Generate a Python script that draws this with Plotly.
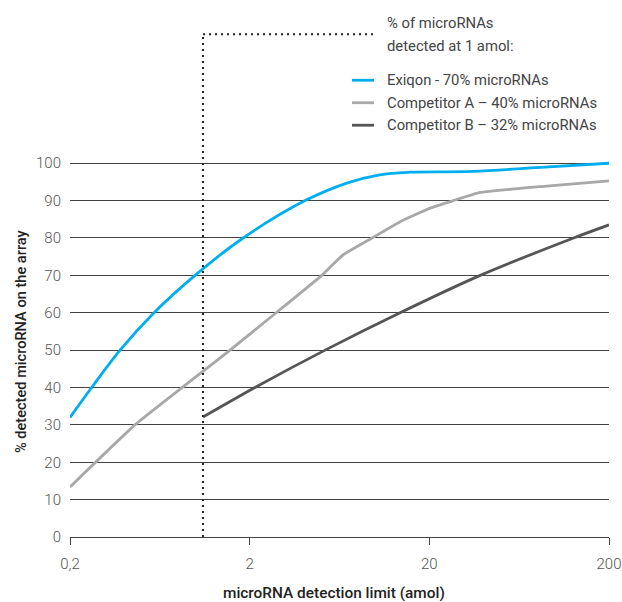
import math
import plotly.graph_objects as go

# ---- data ----
exiqon_x = [0.2, 0.264, 0.380, 0.587, 0.993, 1.84, 4.07, 6.95, 10.6, 15.6, 35, 83, 200]
exiqon_y = [32, 40, 50, 60, 70, 80, 90, 94.7, 96.9, 97.6, 97.8, 98.9, 100]

compA_x = [0.2, 0.46, 1.556, 5.04, 6.62, 9.6, 13.7, 20.2, 27.2, 38.4, 90, 200]
compA_y = [13.4, 30, 50, 70, 75.5, 80, 84.3, 88, 90, 92.2, 93.9, 95.3]

compB_x = [1.1, 2.14, 5.26, 13.75, 38.4, 127, 200]
compB_y = [32.1, 40, 50, 60, 70, 80, 83.5]

x_tickvals = [0.2, 2, 20, 200]
x_ticktext = ["0,2", "2", "20", "200"]
y_tickvals = list(range(0, 101, 10))

detect_limit = 1.1   # dotted marker "detected at 1 amol"
dotted_end_x = 10

legend_header = ["% of microRNAs", "detected at 1 amol:"]
legend_labels = ["Exiqon - 70% microRNAs",
                 "Competitor A \u2013 40% microRNAs",
                 "Competitor B \u2013 32% microRNAs"]
colors = ["#00AEEF", "#A8A8AA", "#555555"]

FONT = "Roboto"
PLOT_L, PLOT_W, PLOT_B, PLOT_H = 70, 539, 537, 376.2


def px(xpix):
    return (xpix - PLOT_L) / PLOT_W


def py(ypix):
    return (PLOT_B - ypix) / PLOT_H


fig = go.Figure()
series = [(exiqon_x, exiqon_y, "spline", 1.0),
          (compA_x, compA_y, "spline", 0.35),
          (compB_x, compB_y, "spline", 0.8)]
for (xs, ys, shape, sm), name, c in zip(series, legend_labels, colors):
    fig.add_trace(go.Scatter(x=xs, y=ys, mode="lines", name=name,
                             line=dict(color=c, width=2.8, shape=shape, smoothing=sm),
                             showlegend=False, hoverinfo="skip"))

# dotted marker line (vertical then horizontal to legend)
dot_line = dict(color="#222222", width=2, dash="2px,4px")
fig.add_shape(type="line", xref="x", yref="paper", x0=detect_limit, x1=detect_limit,
              y0=0, y1=py(34), line=dot_line)
fig.add_shape(type="line", xref="x", yref="paper", x0=detect_limit, x1=dotted_end_x,
              y0=py(34), y1=py(34), line=dot_line)

# manual legend
LEG_FONT = dict(family=FONT, size=14.8, color="#444444")
for yy, txt in zip([23, 46], legend_header):
    fig.add_annotation(xref="paper", yref="paper", x=px(385), y=py(yy),
                       text=txt, showarrow=False, xanchor="left", yanchor="middle",
                       align="left", font=LEG_FONT)
for yy, name, c in zip([80, 102.5, 125], legend_labels, colors):
    fig.add_shape(type="line", xref="paper", yref="paper",
                  x0=px(352), x1=px(374), y0=py(yy), y1=py(yy),
                  line=dict(color=c, width=2.8))
    fig.add_annotation(xref="paper", yref="paper", x=px(385), y=py(yy),
                       text=name, showarrow=False, xanchor="left", yanchor="middle",
                       font=LEG_FONT)

# axis titles
fig.add_annotation(xref="paper", yref="paper", x=px(21), y=py(341),
                   text="% detected microRNA on the array", textangle=-90, showarrow=False,
                   xanchor="center", yanchor="middle",
                   font=dict(family=FONT, size=14.6, color="#222222", weight=500))
fig.add_annotation(xref="paper", yref="paper", x=px(333.5), y=py(593),
                   text="microRNA detection limit (amol)", showarrow=False,
                   xanchor="center", yanchor="middle",
                   font=dict(family=FONT, size=15.4, color="#222222", weight=500))

fig.update_layout(
    template="none",
    width=622, height=602,
    margin=dict(l=70, r=13, t=161, b=65, autoexpand=False),
    paper_bgcolor="white", plot_bgcolor="white",
    showlegend=False,
    font=dict(family=FONT, size=14, color="#555555"),
)
fig.update_xaxes(type="log", range=[math.log10(0.2), math.log10(200)],
                 tickvals=x_tickvals, ticktext=x_ticktext, automargin=False,
                 showgrid=False, zeroline=False,
                 showline=True, linecolor="#444444", linewidth=1,
                 ticks="outside", ticklen=7, tickcolor="#444444", tickwidth=1,
                 ticklabelstandoff=6,
                 tickfont=dict(family=FONT, size=15, color="#555555", weight=300))
fig.update_yaxes(range=[0, 100.6], tickvals=y_tickvals, automargin=False,
                 showgrid=True, gridcolor="#444444", gridwidth=1,
                 zeroline=False, showline=False, ticks="",
                 ticklabelstandoff=8,
                 tickfont=dict(family=FONT, size=15, color="#555555", weight=300))

fig.write_html("out.html", config={"displayModeBar": False},
               post_script="document.body.style.margin='0';document.body.style.padding='0';")
